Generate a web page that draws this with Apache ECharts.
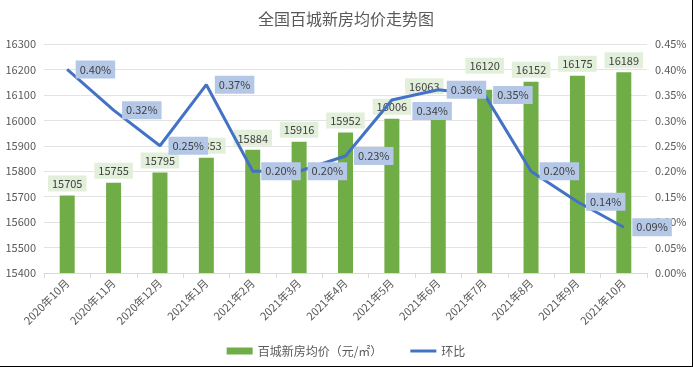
<!DOCTYPE html>
<html><head><meta charset="utf-8">
<script src="https://cdn.jsdelivr.net/npm/echarts@6/dist/echarts.min.js"></script>
<style>
html,body{margin:0;padding:0;background:#fff;}
#c{width:693px;height:367px;box-sizing:border-box;border-right:1.5px solid #000;border-bottom:1.5px solid #000;}
</style></head>
<body><div id="c"></div>
<script>
const categories = ['2020年10月','2020年11月','2020年12月','2021年1月','2021年2月','2021年3月','2021年4月','2021年5月','2021年6月','2021年7月','2021年8月','2021年9月','2021年10月'];
const priceValues = [15705,15755,15795,15853,15884,15916,15952,16006,16063,16120,16152,16175,16189];
const momValues = [0.40,0.32,0.25,0.37,0.20,0.20,0.23,0.34,0.36,0.35,0.20,0.14,0.09];
const leftTicks = {min:15400,max:16300,interval:100};
const rightTicks = {min:0,max:0.45,interval:0.05};

const barLabelShift = {8:[-14,-6],9:[0,-12]};
const lineLabelShift = {7:[12,11]};

const font = '"Noto Sans CJK SC","Noto Sans",sans-serif';
const chart = echarts.init(document.getElementById('c'));
chart.setOption({
  animation:false,
  textStyle:{fontFamily:font},
  title:{text:'全国百城新房均价走势图',left:'center',top:6,textStyle:{fontSize:16,fontWeight:'normal',color:'#595959',fontFamily:font}},
  grid:{left:44,right:45,top:44,bottom:93},
  legend:{bottom:4,left:'center',itemGap:28,textStyle:{fontSize:12,color:'#595959'},
    data:[{name:'百城新房均价（元/㎡）',icon:'rect'},{name:'环比',icon:'path://M0,0H26V3H0Z'}],itemWidth:26,itemHeight:7},
  xAxis:{type:'category',data:categories,
    axisLine:{lineStyle:{color:'#d9d9d9'}},
    axisTick:{show:true,length:5,lineStyle:{color:'#d9d9d9'}},
    axisLabel:{rotate:45,fontSize:11,color:'#595959',margin:8,interval:0}},
  yAxis:[
    {type:'value',min:leftTicks.min,max:leftTicks.max,interval:leftTicks.interval,
      axisLabel:{fontSize:11,color:'#595959',margin:8,formatter:v=>String(v)},
      splitLine:{lineStyle:{color:'#e3e3e3'}},axisLine:{show:false}},
    {type:'value',min:rightTicks.min,max:rightTicks.max,interval:rightTicks.interval,
      axisLabel:{fontSize:11,color:'#595959',margin:8,formatter:v=>v.toFixed(2)+'%'},
      splitLine:{show:false},axisLine:{show:false}}
  ],
  series:[
    {name:'百城新房均价（元/㎡）',type:'bar',yAxisIndex:0,barWidth:15,
      itemStyle:{color:'#70ad47'},
      data:priceValues,
      label:{show:true,position:'top',distance:4,fontSize:11,color:'#404040',
        backgroundColor:'#e2efda',padding:[3,4,2,4]},
      labelLayout:p=>{const s=barLabelShift[p.dataIndex];return s?{dx:s[0],dy:s[1]}:{};},
      z:2},
    {name:'环比',type:'line',yAxisIndex:1,symbol:'circle',symbolSize:1,showSymbol:true,
      lineStyle:{color:'#4472c4',width:3},itemStyle:{color:'#4472c4'},
      data:momValues,
      label:{show:true,position:'right',distance:8,fontSize:11,color:'#404040',
        backgroundColor:'#b4c7e7',padding:[4,4,3,4],formatter:p=>p.value.toFixed(2)+'%'},
      labelLayout:p=>{const s=lineLabelShift[p.dataIndex];return s?{dx:s[0],dy:s[1],hideOverlap:false}:{hideOverlap:false};},
      z:3}
  ]
});
</script></body></html>
